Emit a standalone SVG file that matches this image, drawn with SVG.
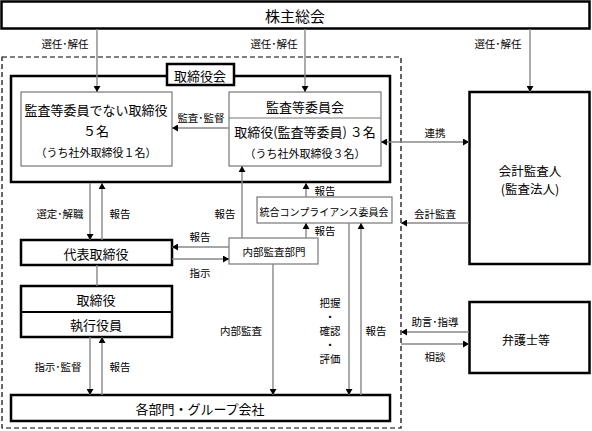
<svg xmlns="http://www.w3.org/2000/svg" width="592" height="431" viewBox="0 0 592 431">
<style>
text{font-family:"Noto Sans CJK JP","Noto Sans CJK SC",sans-serif;fill:#000;text-anchor:middle;dominant-baseline:central}
.t{font-size:13px}
.s{font-size:10.5px}
.thick{fill:#fff;stroke:#000;stroke-width:2.5}
.thin{fill:#fff;stroke:#777;stroke-width:1.2}
.c{fill:none;stroke:#888;stroke-width:1.4}
</style>
<defs>
<marker id="ah" viewBox="0 0 6 7" refX="6" refY="3.5" markerWidth="6" markerHeight="7" markerUnits="userSpaceOnUse" orient="auto-start-reverse"><path d="M0,0 L6,3.5 L0,7 z" fill="#000"/></marker>
</defs>
<rect x="2" y="57" width="399" height="371" fill="none" stroke="#000" stroke-width="1.2" stroke-dasharray="5,3"/>

<g id="shareholders"><rect class="thick" x="1.5" y="1.5" width="588" height="27"/><text x="295" y="15" style="font-size:15px">株主総会</text></g>

<g id="board"><rect class="thick" x="11" y="76" width="379" height="106" style="fill:none"/></g>
<g id="board-label"><rect class="thick" x="167" y="64" width="67" height="21"/><text class="t" x="200" y="75">取締役会</text></g>

<g id="directors"><rect class="thin" x="21" y="92" width="151" height="74"/>
<text class="t" x="96" y="109">監査等委員でない取締役</text>
<text class="t" x="96" y="130">５名</text>
<text x="96" y="152" style="font-size:11px">（うち社外取締役１名）</text></g>

<g id="audit-committee"><rect class="thin" x="229" y="92" width="152" height="74"/>
<line x1="229" y1="118" x2="381" y2="118" stroke="#777" stroke-width="1.2"/>
<text class="t" x="305" y="106">監査等委員会</text>
<text class="t" x="305" y="131">取締役(監査等委員) ３名</text>
<text x="305" y="153" style="font-size:11px">（うち社外取締役３名）</text></g>

<g id="auditor"><rect class="thick" x="469.5" y="92" width="120" height="172"/>
<text x="530" y="170" style="font-size:12.5px">会計監査人</text>
<text x="530" y="188" style="font-size:12.5px">(監査法人)</text></g>

<g id="lawyers"><rect class="thick" x="469.5" y="302" width="120" height="71"/>
<text x="526" y="339" style="font-size:12px">弁護士等</text></g>

<g id="ceo"><rect class="thick" x="21" y="240" width="151" height="25"/><text class="t" x="96" y="253">代表取締役</text></g>

<g id="executives"><rect class="thick" x="21" y="286" width="151" height="51"/>
<line x1="21" y1="312" x2="172" y2="312" stroke="#000" stroke-width="2"/>
<text class="t" x="96" y="299">取締役</text>
<text class="t" x="96" y="324">執行役員</text></g>

<g id="internal-audit"><rect class="thin" x="229" y="238" width="89" height="26"/><text x="274" y="251" style="font-size:10.5px">内部監査部門</text></g>

<g id="compliance"><rect class="thin" x="257" y="197" width="135" height="26"/><text x="324" y="211" style="font-size:10px">統合コンプライアンス委員会</text></g>

<g id="departments"><rect class="thick" x="11" y="395" width="379" height="26"/><text class="t" x="200" y="408">各部門・グループ会社</text></g>

<g id="connectors">
<line class="c" x1="97" y1="29" x2="97" y2="92" marker-end="url(#ah)"/>
<line class="c" x1="305" y1="29" x2="305" y2="92" marker-end="url(#ah)"/>
<line class="c" x1="530" y1="29" x2="530" y2="92" marker-end="url(#ah)"/>
<line class="c" x1="229" y1="128" x2="172" y2="128" marker-end="url(#ah)"/>
<line class="c" x1="381" y1="142" x2="469" y2="142" marker-start="url(#ah)" marker-end="url(#ah)"/>
<line class="c" x1="469" y1="223" x2="401" y2="223" marker-end="url(#ah)"/>
<line class="c" x1="469" y1="332" x2="401" y2="332" marker-end="url(#ah)"/>
<line class="c" x1="401" y1="344" x2="469" y2="344" marker-end="url(#ah)"/>
<line class="c" x1="90" y1="183" x2="90" y2="240" marker-end="url(#ah)"/>
<line class="c" x1="102" y1="240" x2="102" y2="183" marker-end="url(#ah)"/>
<line class="c" x1="229" y1="247" x2="172" y2="247" marker-end="url(#ah)"/>
<line class="c" x1="172" y1="259" x2="229" y2="259" marker-end="url(#ah)"/>
<line class="c" x1="242" y1="238" x2="242" y2="166" marker-end="url(#ah)"/>
<line class="c" x1="306" y1="197" x2="306" y2="183" marker-end="url(#ah)"/>
<line class="c" x1="306" y1="238" x2="306" y2="223" marker-end="url(#ah)"/>
<line class="c" x1="273" y1="264" x2="273" y2="395" marker-end="url(#ah)"/>
<line class="c" x1="349" y1="223" x2="349" y2="395" marker-end="url(#ah)"/>
<line class="c" x1="361" y1="395" x2="361" y2="223" marker-end="url(#ah)"/>
<line class="c" x1="97" y1="265" x2="97" y2="286"/>
<line class="c" x1="90" y1="337" x2="90" y2="395" marker-end="url(#ah)"/>
<line class="c" x1="102" y1="395" x2="102" y2="337" marker-end="url(#ah)"/>
</g>

<g id="labels">
<text class="s" x="65" y="43">選任･解任</text>
<text class="s" x="274" y="43">選任･解任</text>
<text class="s" x="498" y="43">選任･解任</text>
<text class="s" x="201" y="117">監査･監督</text>
<text class="s" x="435" y="132">連携</text>
<text class="s" x="435" y="213">会計監査</text>
<text class="s" x="435" y="321">助言･指導</text>
<text class="s" x="435" y="356">相談</text>
<text class="s" x="60" y="213">選定･解職</text>
<text class="s" x="120" y="213">報告</text>
<text class="s" x="225" y="213">報告</text>
<text class="s" x="200" y="236">報告</text>
<text class="s" x="200" y="272">指示</text>
<text class="s" x="325" y="190">報告</text>
<text class="s" x="325" y="230">報告</text>
<text class="s" x="241" y="330">内部監査</text>
<text class="s" x="330" y="302">把握</text>
<text class="s" x="330" y="316">・</text>
<text class="s" x="330" y="330">確認</text>
<text class="s" x="330" y="344">・</text>
<text class="s" x="330" y="358">評価</text>
<text class="s" x="376" y="330">報告</text>
<text class="s" x="58" y="366">指示･監督</text>
<text class="s" x="120" y="366">報告</text>
</g>
</svg>
